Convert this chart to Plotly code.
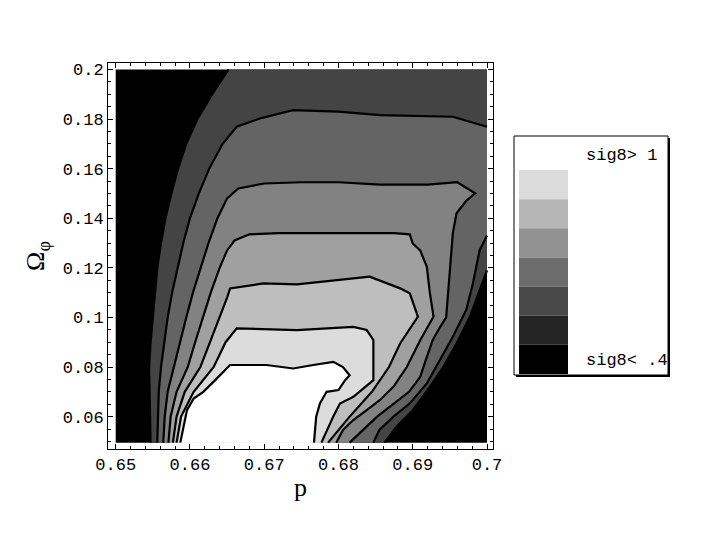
import plotly.graph_objects as go

# ---------------- data ----------------
p_range = [0.65, 0.70]          # extent of the computed grid in p
omega_range = [0.0495, 0.20]    # extent of the computed grid in Omega_phi
yb = omega_range[0]

x_tickvals = [0.65, 0.66, 0.67, 0.68, 0.69, 0.70]
x_ticktext = ["0.65", "0.66", "0.67", "0.68", "0.69", "0.7"]
y_tickvals = [0.06, 0.08, 0.10, 0.12, 0.14, 0.16, 0.18, 0.20]
y_ticktext = ["0.06", "0.08", "0.1", "0.12", "0.14", "0.16", "0.18", "0.2"]

levels = [0.4, 0.5, 0.6, 0.7, 0.8, 0.9, 1.0]
# grey shade of the region above each level (region below 0.4 is black)
band_colors = ["#444444", "#646464", "#828282", "#A0A0A0", "#BEBEBE", "#DCDCDC", "#FFFFFF"]
below_color = "#000000"

# sig8 = 0.4 contour (left branch, right branch)
c04_a_p = [0.6547, 0.6546, 0.6545, 0.6545, 0.6547, 0.6550, 0.6553, 0.6556, 0.6561, 0.6567,
           0.6575, 0.6584, 0.6595, 0.6610, 0.6630, 0.6652]
c04_a_om = [yb, 0.06, 0.07, 0.08, 0.09, 0.10, 0.11, 0.12, 0.13, 0.14,
            0.15, 0.16, 0.17, 0.18, 0.19, 0.20]
c04_b_p = [0.7000, 0.6990, 0.6977, 0.6959, 0.6941, 0.6923, 0.6900, 0.6878, 0.6862]
c04_b_om = [0.1190, 0.1110, 0.1003, 0.0895, 0.0800, 0.0720, 0.0626, 0.0559, yb]

# sig8 = 0.5 contour
c05_a_p = [0.6556, 0.6557, 0.6558, 0.6561, 0.6565, 0.6570, 0.6576, 0.6583, 0.6591, 0.6600,
           0.6612, 0.6626, 0.6644, 0.6663, 0.6694, 0.6739, 0.6800, 0.6856, 0.6954, 0.7000]
c05_a_om = [yb, 0.06, 0.07, 0.08, 0.09, 0.10, 0.11, 0.12, 0.13, 0.14,
            0.15, 0.16, 0.17, 0.1769, 0.1802, 0.1836, 0.1830, 0.1816, 0.1809, 0.1769]
c05_b_p = [0.7000, 0.6990, 0.6981, 0.6972, 0.6954, 0.6937, 0.6919, 0.6896, 0.6874, 0.6855, 0.6847]
c05_b_om = [0.1330, 0.1270, 0.1137, 0.1030, 0.0922, 0.0828, 0.0734, 0.0653, 0.0600, 0.0546, yb]

# sig8 = 0.6 contour
c06_p = [0.6564, 0.6566, 0.6570, 0.6578, 0.6586, 0.6595, 0.6604, 0.6614, 0.6625, 0.6637,
         0.6650, 0.6665, 0.6700, 0.6750, 0.6800, 0.6856, 0.6920, 0.6960, 0.6984, 0.6972,
         0.6959, 0.6954, 0.6950, 0.6947, 0.6945, 0.6937, 0.6927, 0.6919, 0.6910, 0.6895,
         0.6852, 0.6815]
c06_om = [yb, 0.06, 0.07, 0.08, 0.09, 0.10, 0.11, 0.12, 0.13, 0.14,
          0.148, 0.152, 0.1540, 0.1545, 0.1545, 0.1535, 0.1535, 0.1545, 0.1500, 0.1470,
          0.1420, 0.1340, 0.1200, 0.1070, 0.1000, 0.0962, 0.0909, 0.0841, 0.0760, 0.0700,
          0.0600, yb]

# sig8 = 0.7 contour
c07_p = [0.6571, 0.6574, 0.6582, 0.6597, 0.6607, 0.6617, 0.6628, 0.6640, 0.6650, 0.6660,
         0.6680, 0.6720, 0.6800, 0.6875, 0.6896, 0.6900, 0.6910, 0.6919, 0.6923, 0.6928,
         0.6910, 0.6892, 0.6874, 0.6856, 0.6838, 0.6820, 0.6806, 0.6797]
c07_om = [yb, 0.06, 0.07, 0.08, 0.09, 0.10, 0.11, 0.12, 0.127, 0.131,
          0.1335, 0.1340, 0.1340, 0.1340, 0.1335, 0.1298, 0.1270, 0.1204, 0.1100, 0.1003,
          0.0908, 0.0800, 0.0720, 0.0667, 0.0626, 0.0586, 0.0546, yb]

# sig8 = 0.8 contour
c08_p = [0.6577, 0.6582, 0.6593, 0.6614, 0.6627, 0.6640, 0.6650, 0.6654, 0.6699, 0.6744,
         0.6802, 0.6842, 0.6883, 0.6896, 0.6907, 0.6892, 0.6883, 0.6868, 0.6845, 0.6815, 0.6786]
c08_om = [yb, 0.06, 0.07, 0.08, 0.09, 0.10, 0.108, 0.1117, 0.1137, 0.1133,
          0.1150, 0.1164, 0.1117, 0.1097, 0.1003, 0.0935, 0.0895, 0.0800, 0.0700, 0.0600, yb]

# sig8 = 0.9 contour
c09_p = [0.6582, 0.6588, 0.6605, 0.6632, 0.6648, 0.6663, 0.6744, 0.6820, 0.6838, 0.6847,
         0.6847, 0.6847, 0.6820, 0.6802, 0.6793, 0.6777]
c09_om = [yb, 0.06, 0.07, 0.08, 0.09, 0.0956, 0.0949, 0.0962, 0.0949, 0.0909,
          0.0801, 0.0747, 0.0680, 0.0653, 0.0600, yb]

# sig8 = 1.0 contour
c10_p = [0.6587, 0.6596, 0.6605, 0.6618, 0.6634, 0.6654, 0.6703, 0.6739, 0.6766, 0.6793,
         0.6806, 0.6815, 0.6809, 0.6800, 0.6784, 0.6775, 0.6770, 0.6767]
c10_om = [yb, 0.0626, 0.0673, 0.0700, 0.0747, 0.0808, 0.0808, 0.0794, 0.0808, 0.0821,
          0.0800, 0.0767, 0.0747, 0.0707, 0.0700, 0.0653, 0.0600, yb]

# legend of the shading
legend_colors = ["#DBDBDB", "#B6B6B6", "#929292", "#6D6D6D", "#494949", "#242424", "#000000"]
legend_top_label = "sig8> 1"
legend_bottom_label = "sig8< .4"

# ---------------- figure ----------------
contour_pieces = {
    0.4: [(c04_a_p, c04_a_om), (c04_b_p, c04_b_om)],
    0.5: [(c05_a_p, c05_a_om), (c05_b_p, c05_b_om)],
    0.6: [(c06_p, c06_om)],
    0.7: [(c07_p, c07_om)],
    0.8: [(c08_p, c08_om)],
    0.9: [(c09_p, c09_om)],
    1.0: [(c10_p, c10_om)],
}

fig = go.Figure()

# region below the lowest level
fig.add_trace(go.Scatter(
    x=[p_range[0], p_range[1], p_range[1], p_range[0]],
    y=[omega_range[0], omega_range[0], omega_range[1], omega_range[1]],
    mode="none", fill="toself", fillcolor=below_color,
    hoverinfo="skip", showlegend=False))

for lev, col in zip(levels, band_colors):
    xs, ys = [], []
    pieces = contour_pieces[lev]
    for k, (px, py) in enumerate(pieces):
        xs += list(px)
        ys += list(py)
        if lev == 0.4 and k == 0:
            # region runs along the top edge to the upper right corner
            xs.append(p_range[1])
            ys.append(omega_range[1])
    fig.add_trace(go.Scatter(x=xs, y=ys, mode="none", fill="toself", fillcolor=col,
                             hoverinfo="skip", showlegend=False))

for lev in levels:
    for px, py in contour_pieces[lev]:
        fig.add_trace(go.Scatter(x=px, y=py, mode="lines",
                                 line=dict(color="black", width=2.2),
                                 hoverinfo="skip", showlegend=False))

# plot area in pixels: x 108..493, y 63..449
L, R, T, B = 108, 493, 63, 449
W, H = 701, 554


def fx(px):
    return (px - L) / (R - L)


def fy(py):
    return (B - py) / (B - T)


shapes = []
# legend box with drop shadow
shapes.append(dict(type="rect", xref="paper", yref="paper",
                   x0=fx(516), x1=fx(670), y0=fy(377), y1=fy(138),
                   fillcolor="black", line=dict(width=0), layer="above"))
shapes.append(dict(type="rect", xref="paper", yref="paper",
                   x0=fx(514), x1=fx(668), y0=fy(375), y1=fy(136),
                   fillcolor="white", line=dict(color="black", width=1), layer="above"))
top_sw, bot_sw = 170, 374
step = (bot_sw - top_sw) / len(legend_colors)
for i, c in enumerate(legend_colors):
    shapes.append(dict(type="rect", xref="paper", yref="paper",
                       x0=fx(519), x1=fx(568),
                       y0=fy(top_sw + (i + 1) * step), y1=fy(top_sw + i * step),
                       fillcolor=c, line=dict(width=0), layer="above"))

annotations = [
    dict(text=legend_top_label, xref="paper", yref="paper", x=fx(584), y=fy(155),
         xanchor="left", yanchor="middle", showarrow=False,
         font=dict(family="Liberation Mono", size=17, color="black")),
    dict(text=legend_bottom_label, xref="paper", yref="paper", x=fx(584), y=fy(360),
         xanchor="left", yanchor="middle", showarrow=False,
         font=dict(family="Liberation Mono", size=17, color="black")),
]

x0 = p_range[0] - (115.7 - L) / 7426
x1 = p_range[1] + (R - 487.0) / 7426
y1 = omega_range[1] + (69.4 - T) / 2480
y0 = omega_range[1] - (B - 69.4) / 2480

tickfont = dict(family="Liberation Mono", size=17, color="black")

fig.update_layout(
    width=W, height=H,
    margin=dict(l=L, r=W - R, t=T, b=H - B),
    paper_bgcolor="white", plot_bgcolor="white",
    showlegend=False,
    shapes=shapes, annotations=annotations,
    xaxis=dict(range=[x0, x1], tickvals=x_tickvals, ticktext=x_ticktext,
               automargin=False,
               ticks="inside", ticklen=5, tickcolor="black", tickwidth=1,
               minor=dict(ticks="inside", ticklen=3, dtick=0.002, tick0=0.65,
                          tickcolor="black", showgrid=False),
               showline=True, linecolor="black", linewidth=1, mirror="ticks",
               showgrid=False, zeroline=False, tickfont=tickfont,
               title=dict(text="p", font=dict(family="Liberation Serif", size=26, color="black"),
                          standoff=3)),
    yaxis=dict(range=[y0, y1], tickvals=y_tickvals, ticktext=y_ticktext,
               automargin=False,
               ticks="inside", ticklen=5, tickcolor="black", tickwidth=1,
               minor=dict(ticks="inside", ticklen=3, dtick=0.005, tick0=0.05,
                          tickcolor="black", showgrid=False),
               showline=True, linecolor="black", linewidth=1, mirror="ticks",
               showgrid=False, zeroline=False, tickfont=tickfont,
               title=dict(text="Ω<sub>φ</sub>", font=dict(family="Liberation Serif", size=26, color="black"),
                          standoff=10)),
)

fig.write_html("out.html",
               config={"displayModeBar": False},
               post_script="document.body.style.margin='0';document.body.style.overflow='hidden';")
